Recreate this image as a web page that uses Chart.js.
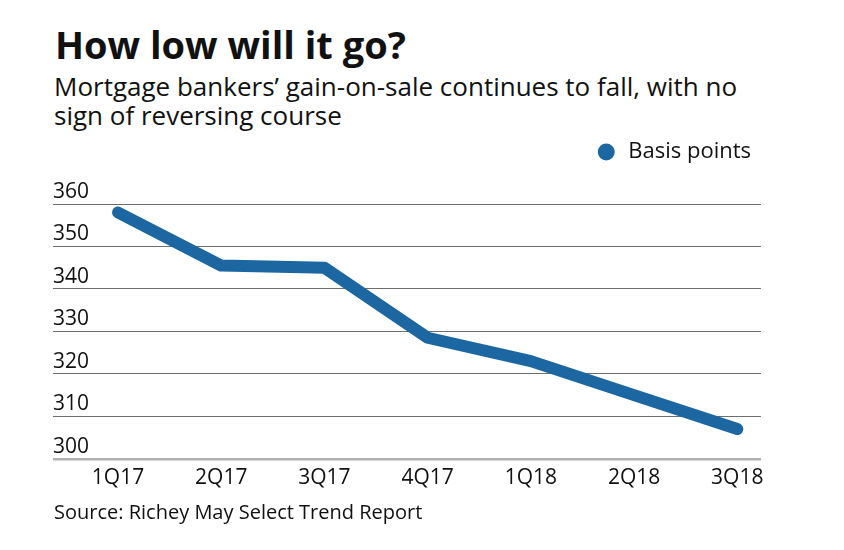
<!DOCTYPE html>
<html>
<head>
<meta charset="utf-8">
<script src="https://cdn.jsdelivr.net/npm/chart.js@4.4.0/dist/chart.umd.min.js"></script>
<style>
  body { margin: 0; background: #fff; font-family: "Open Sans", sans-serif; color: #111; }
  #wrap { position: relative; width: 844px; height: 550px; overflow: hidden; }
  #title { position: absolute; left: 55px; top: 18px; font-size: 38px; font-weight: 700; white-space: nowrap; }
  #subtitle { position: absolute; left: 54px; top: 72px; font-size: 26px; line-height: 29px; white-space: nowrap; }
  #source { position: absolute; left: 54px; top: 498px; font-size: 20px; white-space: nowrap; }
  #chartBox { position: absolute; left: 0; top: 0; width: 844px; height: 550px; }
</style>
</head>
<body>
<div id="wrap">
  <div id="title">How low will it go?</div>
  <div id="subtitle">Mortgage bankers’ gain-on-sale continues to fall, with no<br>sign of reversing course</div>
  <div id="chartBox"><canvas id="lineChart"></canvas></div>
  <div id="source">Source: Richey May Select Trend Report</div>
</div>
<script>
const quarters = ['1Q17', '2Q17', '3Q17', '4Q17', '1Q18', '2Q18', '3Q18'];
const basisPoints = [358, 345.5, 345, 328.5, 323, 315, 307];
const yTicks = [300, 310, 320, 330, 340, 350, 360];

// push the plot area down below the legend
const legendGap = {
    id: 'legendGap',
    afterInit: function (chart) {
        const legend = chart.legend;
        const fit = legend.fit;
        legend.fit = function () {
            fit.call(legend);
            legend.height += 31;
        };
    }
};

document.addEventListener('DOMContentLoaded', function () {
    const ctx = document.getElementById('lineChart').getContext('2d');
    const blue = '#1c67a2';
    const fontFamily = '"Open Sans", sans-serif';

    new Chart(ctx, {
        type: 'line',
        data: {
            datasets: [{
                label: 'Basis points',
                data: basisPoints.map((v, i) => ({ x: i, y: v })),
                borderColor: blue,
                backgroundColor: blue,
                borderWidth: 12,
                borderCapStyle: 'round',
                borderJoinStyle: 'round',
                pointRadius: 0,
                pointStyle: 'circle',
                tension: 0
            }]
        },
        options: {
            responsive: true,
            maintainAspectRatio: false,
            animation: false,
            layout: {
                padding: { left: 53, right: 83, top: 131, bottom: 52 }
            },
            scales: {
                x: {
                    type: 'linear',
                    min: -0.63,
                    max: 6.23,
                    afterBuildTicks: function (scale) {
                        scale.ticks = quarters.map((q, i) => ({ value: i }));
                    },
                    grid: { display: false, drawTicks: false },
                    border: { display: false },
                    ticks: {
                        color: '#111',
                        padding: 7,
                        maxRotation: 0,
                        font: { family: fontFamily, size: 21 },
                        callback: function (value) { return quarters[value]; }
                    }
                },
                y: {
                    min: 300,
                    max: 360,
                    afterBuildTicks: function (scale) {
                        scale.ticks = yTicks.map(v => ({ value: v }));
                    },
                    border: { display: false },
                    grid: {
                        color: ctx => ctx.tick && ctx.tick.value === 300 ? '#b0b0b0' : '#6e6e6e',
                        lineWidth: ctx => ctx.tick && ctx.tick.value === 300 ? 2.5 : 1,
                        drawTicks: false
                    },
                    ticks: {
                        mirror: true,
                        padding: 0,
                        labelOffset: -12,
                        color: '#111',
                        font: { family: fontFamily, size: 21 }
                    }
                }
            },
            plugins: {
                legend: {
                    position: 'top',
                    align: 'end',
                    labels: {
                        usePointStyle: true,
                        boxHeight: 12,
                        padding: 10,
                        color: '#111',
                        font: { family: fontFamily, size: 22 },
                        generateLabels: function (chart) {
                            return Chart.defaults.plugins.legend.labels.generateLabels(chart).map(item => {
                                item.lineWidth = 0;
                                return item;
                            });
                        }
                    }
                },
                tooltip: { enabled: false }
            }
        },
        plugins: [legendGap]
    });
});
</script>
</body>
</html>
